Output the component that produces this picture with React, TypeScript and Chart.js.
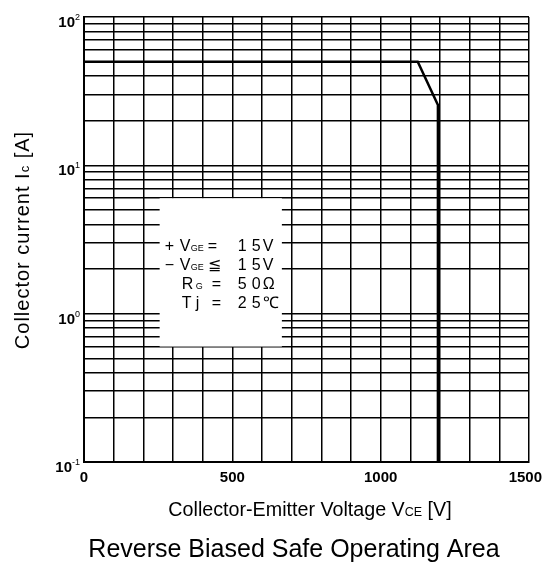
import React, { useEffect, useRef } from 'react';
import { Chart, registerables } from 'chart.js';

Chart.register(...registerables);

// Reverse biased safe operating area boundary
const boundaryVoltage = [0, 1125, 1193, 1193];
const boundaryCurrent = [50, 50, 25.5, 0.1];

// Axes
const xMin = 0;
const xMax = 1500;
const xGridStep = 100;
const xLabelValues = [0, 500, 1000, 1500];

const yMin = 0.1;
const yMax = 100;
const yGridValues = [
  0.1, 0.2, 0.3, 0.4, 0.5, 0.6, 0.7, 0.8, 0.9,
  1, 2, 3, 4, 5, 6, 7, 8, 9,
  10, 20, 30, 40, 50, 60, 70, 80, 90,
  100,
];
const yLabelValues = [0.1, 1, 10, 100];
const yLabelExponents = ['-1', '0', '1', '2'];

// Test conditions
const conditionNames = ['+V', '\u2212V', 'R', 'T'];
const conditionSubs = ['GE', 'GE', 'G', 'j'];
const conditionOps = ['=', '\u2266', '=', '='];
const conditionValues = [
  ['1', '5', 'V'],
  ['1', '5', 'V'],
  ['5', '0', '\u03A9'],
  ['2', '5', '\u2103'],
];

const xTitleRuns = [
  { t: 'Collector-Emitter Voltage V', s: 19.7 },
  { t: 'CE', s: 12.5 },
  { t: ' [V]', s: 19.7 },
];
const yTitleRuns = [
  { t: 'Collector current I', s: 20 },
  { t: 'c', s: 13 },
  { t: ' [A]', s: 20 },
];
const mainTitle = 'Reverse Biased Safe Operating Area';

const FONT = '"Liberation Sans", Arial, Helvetica, sans-serif';

function drawRuns(
  ctx: CanvasRenderingContext2D,
  runs: { t: string; s: number }[],
  cx: number,
  y: number,
  spacing: number
) {
  (ctx as any).letterSpacing = `${spacing}px`;
  let total = 0;
  const widths = runs.map((r) => {
    ctx.font = `${r.s}px ${FONT}`;
    const w = ctx.measureText(r.t).width;
    total += w;
    return w;
  });
  let x = cx - total / 2;
  ctx.textAlign = 'left';
  ctx.textBaseline = 'alphabetic';
  runs.forEach((r, i) => {
    ctx.font = `${r.s}px ${FONT}`;
    ctx.fillText(r.t, x, y);
    x += widths[i];
  });
  (ctx as any).letterSpacing = '0px';
}

const sheetPlugin = {
  id: 'sheetText',
  beforeDatasetsDraw(chart: any) {
    const { ctx, scales } = chart;
    const xs = scales.x;
    const ys = scales.y;
    const l = xs.getPixelForValue(255);
    const r = xs.getPixelForValue(667);
    const t = ys.getPixelForValue(6.0);
    const b = ys.getPixelForValue(0.6);
    ctx.save();
    ctx.fillStyle = '#ffffff';
    ctx.fillRect(l, t, r - l, b - t);
    ctx.fillStyle = '#000000';
    ctx.textBaseline = 'middle';
    ctx.textAlign = 'left';
    for (let i = 0; i < conditionNames.length; i++) {
      const cy = t + 48.5 + i * 19;
      const name = conditionNames[i];
      ctx.font = `16px ${FONT}`;
      if (name.length === 2) {
        ctx.fillText(name[0], l + 5, cy);
        ctx.fillText(name[1], l + 20, cy);
        ctx.font = `9px ${FONT}`;
        ctx.fillText(conditionSubs[i], l + 31, cy + 2);
        ctx.font = `16px ${FONT}`;
        ctx.fillText(conditionOps[i], l + 48, cy);
      } else {
        ctx.fillText(name, l + 22, cy);
        if (conditionSubs[i] === 'j') {
          ctx.fillText(conditionSubs[i], l + 36, cy);
        } else {
          ctx.font = `9px ${FONT}`;
          ctx.fillText(conditionSubs[i], l + 36, cy + 2);
        }
        ctx.font = `16px ${FONT}`;
        ctx.fillText(conditionOps[i], l + 52, cy);
      }
      const vx = [78, 92, 103];
      conditionValues[i].forEach((c, k) => ctx.fillText(c, l + vx[k], cy));
    }
    ctx.restore();
  },
  afterDraw(chart: any) {
    const { ctx, scales, chartArea, width } = chart;
    const xs = scales.x;
    const ys = scales.y;
    ctx.save();
    ctx.fillStyle = '#000000';
    // x tick labels
    ctx.font = `bold 15px ${FONT}`;
    ctx.textBaseline = 'middle';
    ctx.textAlign = 'center';
    xLabelValues.forEach((v) => {
      const label = String(v);
      const w = ctx.measureText(label).width;
      let px = xs.getPixelForValue(v);
      px = Math.min(px, width - 2 - w / 2);
      ctx.fillText(label, px, chartArea.bottom + 16);
    });
    // y tick labels with exponents
    yLabelValues.forEach((v, i) => {
      const py = ys.getPixelForValue(v) + 5;
      ctx.font = `9px ${FONT}`;
      ctx.textAlign = 'left';
      const ew = ctx.measureText(yLabelExponents[i]).width;
      const right = chartArea.left - 4;
      ctx.textBaseline = 'alphabetic';
      ctx.fillText(yLabelExponents[i], right - ew, py - 2);
      ctx.font = `bold 15px ${FONT}`;
      ctx.textAlign = 'right';
      ctx.fillText('10', right - ew, py + 5);
    });
    // axis titles
    drawRuns(ctx, xTitleRuns, 310, 516, 0);
    ctx.save();
    ctx.translate(29, 240);
    ctx.rotate(-Math.PI / 2);
    drawRuns(ctx, yTitleRuns, 0, 0, 1);
    ctx.restore();
    // main title
    ctx.font = `25px ${FONT}`;
    ctx.textAlign = 'center';
    ctx.textBaseline = 'alphabetic';
    ctx.fillText(mainTitle, 294, 557);
    ctx.restore();
  },
};

export default function App() {
  const canvasRef = useRef<HTMLCanvasElement | null>(null);

  useEffect(() => {
    const canvas = canvasRef.current;
    if (!canvas) return;
    const points = boundaryVoltage.map((v, i) => ({ x: v, y: boundaryCurrent[i] }));
    const chart = new Chart(canvas, {
      type: 'line',
      data: {
        datasets: [
          {
            data: points,
            borderColor: '#000000',
            borderWidth: 2.5,
            pointRadius: 0,
            tension: 0,
            fill: false,
          },
        ],
      },
      options: {
        responsive: false,
        animation: false,
        devicePixelRatio: 1,
        layout: { padding: { top: 17, right: 15, bottom: 0, left: 0 } },
        plugins: {
          legend: { display: false },
          tooltip: { enabled: false },
          title: { display: false },
        },
        scales: {
          x: {
            type: 'linear',
            min: xMin,
            max: xMax,
            ticks: { stepSize: xGridStep, display: false },
            grid: { color: '#000000', lineWidth: 1.5, drawTicks: false },
            border: { display: true, color: '#000000', width: 2 },
            afterFit: (scale: any) => {
              scale.height = 100;
              scale.paddingLeft = 0;
              scale.paddingRight = 0;
            },
          },
          y: {
            type: 'logarithmic',
            min: yMin,
            max: yMax,
            ticks: { display: false },
            afterBuildTicks: (scale: any) => {
              scale.ticks = yGridValues.map((v) => ({ value: v }));
            },
            grid: { color: '#000000', lineWidth: 1.5, drawTicks: false },
            border: { display: true, color: '#000000', width: 2 },
            afterFit: (scale: any) => {
              scale.width = 84;
              scale.paddingTop = 0;
              scale.paddingBottom = 0;
            },
          },
        },
      },
      plugins: [sheetPlugin],
    });
    return () => chart.destroy();
  }, []);

  return (
    <div style={{ position: 'absolute', left: 0, top: 0, width: 544, height: 562, background: '#fff' }}>
      <canvas ref={canvasRef} width={544} height={562} style={{ display: 'block', width: 544, height: 562 }} />
    </div>
  );
}
